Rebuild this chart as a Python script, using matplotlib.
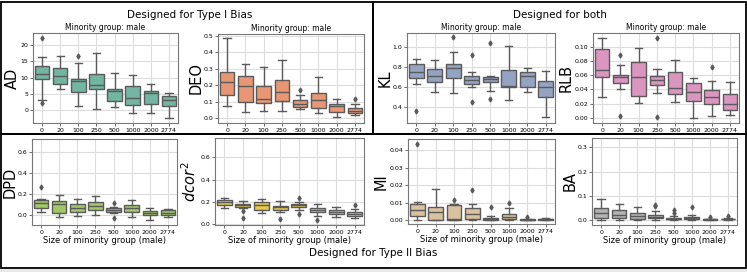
import colorsys
import numpy as np
import matplotlib.pyplot as plt
import matplotlib.colors as mcolors
from matplotlib.patches import Rectangle

sizes = ['0', '20', '100', '250', '500', '1000', '2000', '2774']

# box stats per metric: whisker low, q1, median, q3, whisker high, fliers
ad_lo = [3.1, 6.4, 1.2, 0.5, 1.0, -0.8, -0.8, -2.3]
ad_q1 = [9.5, 8.0, 5.7, 6.4, 2.8, 1.5, 2.0, 1.2]
ad_med = [11.1, 10.5, 9.0, 7.7, 6.0, 3.8, 5.2, 3.1]
ad_q3 = [13.7, 12.9, 9.5, 11.1, 6.6, 7.4, 5.9, 4.4]
ad_hi = [16.3, 16.8, 14.6, 17.7, 11.3, 10.7, 8.0, 5.4]
ad_fl = [[22.2, 2.1], [], [16.7], [], [], [], [], []]

deo_lo = [0.071, 0.036, 0.040, 0.042, 0.055, 0.030, 0.006, 0.020]
deo_q1 = [0.138, 0.099, 0.089, 0.101, 0.067, 0.061, 0.036, 0.030]
deo_med = [0.220, 0.192, 0.115, 0.160, 0.087, 0.111, 0.071, 0.045]
deo_q3 = [0.277, 0.253, 0.192, 0.233, 0.107, 0.152, 0.085, 0.061]
deo_hi = [0.486, 0.328, 0.312, 0.352, 0.138, 0.247, 0.115, 0.085]
deo_fl = [[], [], [], [], [0.172], [], [], [0.115]]

kl_lo = [0.627, 0.553, 0.543, 0.603, 0.563, 0.470, 0.547, 0.303]
kl_q1 = [0.687, 0.653, 0.687, 0.630, 0.647, 0.597, 0.597, 0.497]
kl_med = [0.753, 0.710, 0.787, 0.670, 0.683, 0.613, 0.710, 0.597]
kl_q3 = [0.827, 0.780, 0.830, 0.710, 0.703, 0.770, 0.753, 0.663]
kl_hi = [0.883, 0.867, 0.953, 0.750, 0.713, 1.010, 0.793, 0.763]
kl_fl = [[0.36], [], [1.093], [0.917, 0.45], [1.037, 0.477], [], [], []]

rlb_lo = [0.0295, 0.041, 0.021, 0.0343, 0.0224, 0.0, 0.003, 0.0033]
rlb_q1 = [0.057, 0.0495, 0.031, 0.0457, 0.033, 0.0238, 0.019, 0.0114]
rlb_med = [0.067, 0.057, 0.0576, 0.053, 0.0414, 0.0357, 0.029, 0.019]
rlb_q3 = [0.097, 0.061, 0.079, 0.059, 0.065, 0.0486, 0.039, 0.0333]
rlb_hi = [0.113, 0.074, 0.0986, 0.0695, 0.082, 0.0567, 0.052, 0.0505]
rlb_fl = [[], [0.089, 0.002], [], [0.113, 0.001], [], [], [0.072], []]

dpd_lo = [0.025, -0.028, -0.013, 0.0, 0.013, -0.019, -0.054, -0.022]
dpd_q1 = [0.066, 0.019, 0.025, 0.044, 0.022, 0.025, -0.006, 0.0]
dpd_med = [0.107, 0.104, 0.066, 0.082, 0.044, 0.060, 0.019, 0.019]
dpd_q3 = [0.136, 0.126, 0.098, 0.117, 0.060, 0.088, 0.035, 0.044]
dpd_hi = [0.152, 0.183, 0.152, 0.177, 0.076, 0.136, 0.066, 0.057]
dpd_fl = [[0.265], [], [], [], [0.11, -0.03], [], [], []]

dcor_lo = [0.151, 0.148, 0.101, 0.107, 0.130, 0.077, 0.062, 0.053]
dcor_q1 = [0.172, 0.160, 0.125, 0.130, 0.154, 0.113, 0.089, 0.071]
dcor_med = [0.196, 0.172, 0.172, 0.160, 0.172, 0.130, 0.113, 0.089]
dcor_q3 = [0.220, 0.184, 0.196, 0.169, 0.187, 0.148, 0.130, 0.110]
dcor_hi = [0.232, 0.208, 0.226, 0.208, 0.199, 0.181, 0.157, 0.134]
dcor_fl = [[], [0.12, 0.06], [], [0.048], [0.238, 0.095], [0.036], [], [0.172]]

mi_lo = [0.0004, 0.0, 0.0, 0.0, 0.0, 0.0, 0.0, 0.0]
mi_q1 = [0.0026, 0.0004, 0.0002, 0.0007, 0.0004, 0.0007, 0.0002, 0.0002]
mi_med = [0.0059, 0.0048, 0.0007, 0.0037, 0.0009, 0.0022, 0.0004, 0.0006]
mi_q3 = [0.0096, 0.0077, 0.0090, 0.0070, 0.0015, 0.0037, 0.0007, 0.0011]
mi_hi = [0.0103, 0.0179, 0.0094, 0.0094, 0.0026, 0.0072, 0.0011, 0.0015]
mi_fl = [[0.0435], [], [0.0114], [0.0173], [0.0074], [0.0100], [0.0020], []]

ba_lo = [0.001, 0.001, 0.001, 0.001, 0.001, 0.001, 0.0, 0.001]
ba_q1 = [0.0095, 0.007, 0.004, 0.007, 0.003, 0.004, 0.001, 0.003]
ba_med = [0.031, 0.023, 0.015, 0.014, 0.005, 0.008, 0.003, 0.004]
ba_q3 = [0.050, 0.042, 0.029, 0.023, 0.008, 0.014, 0.004, 0.005]
ba_hi = [0.089, 0.068, 0.056, 0.038, 0.015, 0.023, 0.005, 0.007]
ba_fl = [[], [], [], [0.063, 0.059], [0.042, 0.029], [0.053], [0.014], [0.015]]

palette = ['#66c2a5', '#fc8d62', '#8da0cb', '#e78ac3',
           '#a6d854', '#ffd92f', '#e5c494', '#b3b3b3']


def desat(c, s=0.75):
    h, l, sat = colorsys.rgb_to_hls(*mcolors.to_rgb(c))
    return colorsys.hls_to_rgb(h, l, sat * s)


def draw(ax, lo, q1, med, q3, hi, fl, color, ylabel, lab_off, ylim, yticks, ytl, title, xlabel):
    stats = []
    for i in range(len(sizes)):
        stats.append(dict(whislo=lo[i], q1=q1[i], med=med[i], q3=q3[i],
                          whishi=hi[i], fliers=fl[i]))
    gray = '#5a5a5a'
    ax.bxp(stats, positions=range(len(sizes)), widths=0.8, patch_artist=True,
           boxprops=dict(facecolor=desat(color), edgecolor=gray, linewidth=1),
           medianprops=dict(color=gray, linewidth=1),
           whiskerprops=dict(color=gray, linewidth=1),
           capprops=dict(color=gray, linewidth=1),
           flierprops=dict(marker='d', markersize=2.5, markerfacecolor=gray,
                           markeredgecolor=gray))
    ax.set_xticks(range(len(sizes)))
    ax.set_xticklabels(sizes)
    ax.set_xlim(-0.5, len(sizes) - 0.5)
    ax.set_ylim(*ylim)
    ax.set_yticks(yticks)
    ax.set_yticklabels(ytl)
    ax.tick_params(labelsize=4.5, length=2, width=0.6, color='#555555', pad=1.5)
    ax.grid(True, color='#dddddd', linewidth=0.8)
    ax.set_axisbelow(True)
    for sp in ax.spines.values():
        sp.set_color('#777777')
        sp.set_linewidth(0.8)
    ax.set_ylabel(ylabel, fontsize=10.5, va='center')
    w = ax.get_position().width * W
    ax.yaxis.set_label_coords(-lab_off / w, 0.5)
    if title:
        ax.set_title(title, fontsize=5.5, pad=2)
    if xlabel:
        ax.set_xlabel(xlabel, fontsize=6, labelpad=1)


W, H = 747, 272
fig = plt.figure(figsize=(W / 100, H / 100), dpi=100)


def add_ax(x0, y_top, w, h):
    return fig.add_axes([x0 / W, 1 - (y_top + h) / H, w / W, h / H])


t = 'Minority group: male'
xl = 'Size of minority group (male)'

ax = add_ax(33, 33, 145, 90)
draw(ax, ad_lo, ad_q1, ad_med, ad_q3, ad_hi, ad_fl, palette[0], 'AD', 20.5,
     (-3.9, 23.7), [0, 5, 10, 15, 20], ['0', '5', '10', '15', '20'], t, None)

ax = add_ax(218, 34, 146, 89)
draw(ax, deo_lo, deo_q1, deo_med, deo_q3, deo_hi, deo_fl, palette[1], 'DEO', 22,
     (-0.03, 0.51), [0, 0.1, 0.2, 0.3, 0.4, 0.5],
     ['0.0', '0.1', '0.2', '0.3', '0.4', '0.5'], t, None)

ax = add_ax(407, 33, 148, 90)
draw(ax, kl_lo, kl_q1, kl_med, kl_q3, kl_hi, kl_fl, palette[2], 'KL', 22,
     (0.243, 1.137), [0.4, 0.6, 0.8, 1.0], ['0.4', '0.6', '0.8', '1.0'], t, None)

ax = add_ax(593, 33, 146, 90)
draw(ax, rlb_lo, rlb_q1, rlb_med, rlb_q3, rlb_hi, rlb_fl, palette[3], 'RLB', 27,
     (-0.0076, 0.12), [0, 0.02, 0.04, 0.06, 0.08, 0.10],
     ['0.00', '0.02', '0.04', '0.06', '0.08', '0.10'], t, None)

ax = add_ax(32, 139, 145, 86)
draw(ax, dpd_lo, dpd_q1, dpd_med, dpd_q3, dpd_hi, dpd_fl, palette[4], 'DPD', 22,
     (-0.10, 0.72), [0, 0.2, 0.4, 0.6], ['0.0', '0.2', '0.4', '0.6'], None, xl)

ax = add_ax(215, 138, 149, 87)
draw(ax, dcor_lo, dcor_q1, dcor_med, dcor_q3, dcor_hi, dcor_fl, palette[5], '$dcor^2$', 25,
     (-0.006, 0.775), [0, 0.2, 0.4, 0.6], ['0.0', '0.2', '0.4', '0.6'], None, xl)

ax = add_ax(408, 139, 147, 85)
draw(ax, mi_lo, mi_q1, mi_med, mi_q3, mi_hi, mi_fl, palette[6], 'MI', 27,
     (-0.002, 0.0463), [0, 0.01, 0.02, 0.03, 0.04],
     ['0.00', '0.01', '0.02', '0.03', '0.04'], None, xl)

ax = add_ax(592, 138, 145, 87)
draw(ax, ba_lo, ba_q1, ba_med, ba_q3, ba_hi, ba_fl, palette[7], 'BA', 22,
     (-0.02, 0.338), [0, 0.1, 0.2, 0.3], ['0.0', '0.1', '0.2', '0.3'], None, xl)

# group titles
fig.text(190 / W, 1 - 15 / H, 'Designed for Type I Bias', ha='center', va='center', fontsize=7.5)
fig.text(560 / W, 1 - 15 / H, 'Designed for both', ha='center', va='center', fontsize=7.5)
fig.text(373 / W, 1 - 253 / H, 'Designed for Type II Bias', ha='center', va='center', fontsize=7.5)


# group frames
def frame(x0, y0, x1, y1):
    fig.add_artist(Rectangle((x0 / W, 1 - y1 / H), (x1 - x0) / W, (y1 - y0) / H,
                             transform=fig.transFigure, fill=False,
                             edgecolor='black', linewidth=1.3))


frame(1.5, 1.5, 373, 134)
frame(373, 1.5, 745.5, 134)
frame(1.5, 134, 745.5, 268)
fig.add_artist(Rectangle((0, 0), 1, 3.5 / H, transform=fig.transFigure,
                         facecolor='#e8e8e8', edgecolor='none'))

fig.savefig('out.png', dpi=100)
